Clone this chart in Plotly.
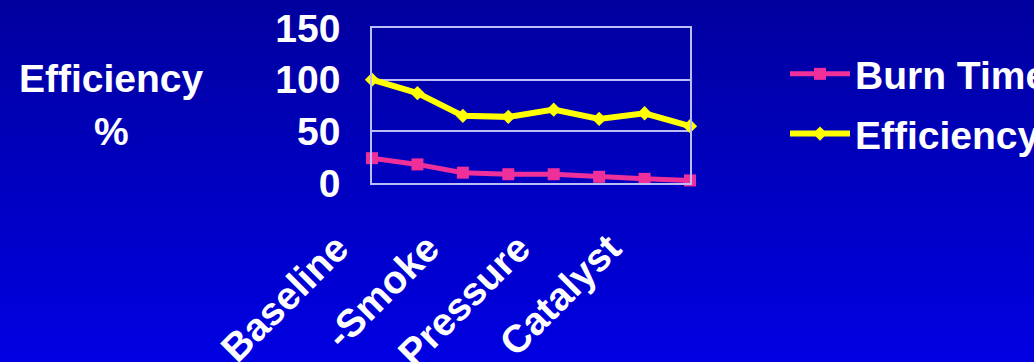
import base64
import plotly.graph_objects as go

# Test runs (every run plotted, every other one labelled)
run_index = [0, 1, 2, 3, 4, 5, 6, 7]
tick_positions = [0, 2, 4, 6]
tick_labels = ["Baseline", "-Smoke", "Pressure", "Catalyst"]

# Series values
burn_time = [24, 18, 10, 8.5, 8.5, 6, 4, 2.5]
efficiency = [100, 87, 65, 64, 71, 62, 67.5, 55]

W, H = 1034, 362
M_L, M_R, M_T, M_B = 372, 344, 28, 179
PW, PH = W - M_L - M_R, H - M_T - M_B

FONT = "Liberation Sans, Arial, sans-serif"
TXT = dict(family=FONT, size=39, color="white", weight="bold")
GRID = "#BCBCF6"

# vertical blue gradient used as the page background
svg = (
    '<svg xmlns="http://www.w3.org/2000/svg" width="10" height="100" '
    'viewBox="0 0 10 100" preserveAspectRatio="none">'
    '<defs><linearGradient id="g" x1="0" y1="0" x2="0" y2="1">'
    '<stop offset="0" stop-color="#00009E"/>'
    '<stop offset="1" stop-color="#0000E2"/>'
    '</linearGradient></defs>'
    '<rect width="10" height="100" fill="url(#g)"/></svg>'
)
bg_uri = "data:image/svg+xml;base64," + base64.b64encode(svg.encode()).decode()

fig = go.Figure()
fig.add_trace(go.Scatter(
    x=run_index, y=burn_time, name="Burn Time", mode="lines+markers",
    line=dict(color="#F0309A", width=5),
    marker=dict(symbol="square", size=12, color="#F0309A"),
    cliponaxis=False, legendgroup="a",
))
fig.add_trace(go.Scatter(
    x=run_index, y=efficiency, name="Efficiency", mode="lines+markers",
    line=dict(color="#FFFF00", width=6),
    marker=dict(symbol="diamond", size=11, color="#FFFF00"),
    cliponaxis=False, legendgroup="b",
))

fig.update_layout(
    width=W, height=H,
    margin=dict(l=M_L, r=M_R, t=M_T, b=M_B, pad=0, autoexpand=False),
    paper_bgcolor="#0000B8",
    plot_bgcolor="rgba(0,0,0,0)",
    font=TXT,
    showlegend=True,
    legend=dict(
        x=(785 - M_L) / PW, y=1 + (M_T - 42) / PH,
        xanchor="left", yanchor="top",
        bgcolor="rgba(0,0,0,0)", font=TXT,
        tracegroupgap=6, itemwidth=60,
    ),
    images=[dict(
        source=bg_uri, xref="paper", yref="paper",
        x=-M_L / PW, y=1 + M_T / PH, sizex=W / PW, sizey=H / PH,
        xanchor="left", yanchor="top", sizing="stretch", layer="below",
    )],
    xaxis=dict(
        range=[0, 7], tickmode="array",
        tickvals=tick_positions, ticktext=tick_labels,
        tickangle=-45, tickfont=TXT, ticks="",
        ticklabelshift=-35, ticklabelstandoff=25,
        showgrid=False, zeroline=False,
        showline=True, linecolor=GRID, linewidth=1.5, mirror=True,
    ),
    yaxis=dict(
        range=[0, 150], tickvals=[0, 50, 100, 150],
        tickfont=TXT, ticks="", ticklabelstandoff=22,
        showgrid=True, gridcolor=GRID, gridwidth=1.5, zeroline=False,
        showline=True, linecolor=GRID, linewidth=1.5, mirror=True,
    ),
    annotations=[
        dict(text="Efficiency", xref="paper", yref="paper",
             x=(111 - M_L) / PW, y=1 - (78 - M_T) / PH,
             xanchor="center", yanchor="middle", showarrow=False, font=TXT),
        dict(text="%", xref="paper", yref="paper",
             x=(111 - M_L) / PW, y=1 - (131 - M_T) / PH,
             xanchor="center", yanchor="middle", showarrow=False, font=TXT),
    ],
)

fig.write_html("out.html")
